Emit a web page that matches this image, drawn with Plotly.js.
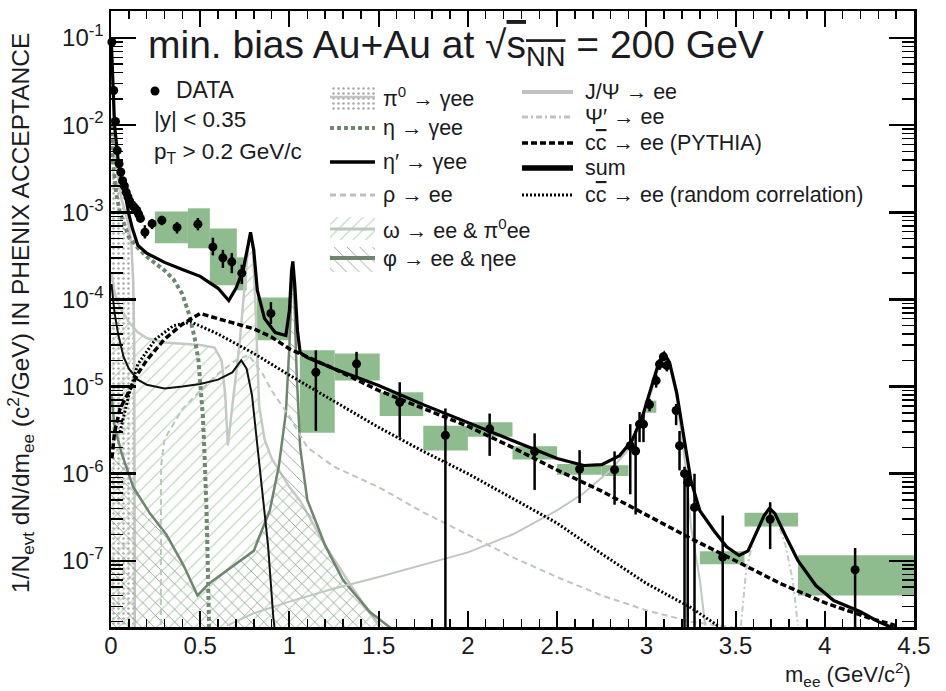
<!DOCTYPE html>
<html><head><meta charset="utf-8">
<script src="https://cdn.plot.ly/plotly-3.0.1.min.js"></script>
<style>body{margin:0;background:#fff}#chart{width:946px;height:691px}</style>
</head><body><div id="chart"></div>
<script>
// ---------------- DATA ----------------
const massData = [0.005,0.015,0.025,0.035,0.045,0.055,0.065,0.075,0.085,0.095,0.105,0.115,0.125,0.135,0.145,0.155,0.165,0.19,0.23,0.285,0.37,0.487,0.571,0.627,0.677,0.733,0.896,1.148,1.376,1.618,1.874,2.122,2.374,2.626,2.822,2.91,2.94,2.962,2.984,3.018,3.055,3.074,3.096,3.115,3.167,3.186,3.214,3.232,3.27,3.428,3.694,4.17];
const yieldData = [0.09,0.025,0.011,0.0051,0.0036,0.0029,0.0023,0.0020,0.0017,0.0015,0.00134,0.00123,0.00117,0.00111,0.00105,0.00095,0.00085,5.9e-4,7.4e-4,8.1e-4,6.7e-4,7.3e-4,4.0e-4,3.0e-4,2.7e-4,2.0e-4,6.9e-5,1.46e-5,1.82e-5,6.6e-6,2.75e-6,3.27e-6,1.79e-6,1.13e-6,1.11e-6,2.09e-6,1.82e-6,3.7e-6,3.7e-6,6.2e-6,1.17e-5,1.8e-5,2.2e-5,1.74e-5,5.3e-6,2.09e-6,1.0e-6,7.9e-7,4.1e-7,1.1e-7,3.0e-7,7.9e-8];
const errUp = [0.004,0.0012,0.0005,0.00025,0.00018,0.00014,0.00011,0.0001,0.00008,0.00007,0.00007,0.00006,0.00006,0.00006,0.00006,0.00006,0.00006,1.2e-4,1.0e-4,1.0e-4,1.0e-4,1.3e-4,1.1e-4,0.7e-4,0.7e-4,0.5e-4,2.4e-5,1.14e-5,0.68e-5,4.6e-6,2.85e-6,1.63e-6,1.11e-6,7.3e-7,6.9e-7,1.61e-6,1.28e-6,1.4e-6,1.4e-6,1.0e-6,2.0e-6,2.5e-6,2.5e-6,2.5e-6,1.0e-6,1.0e-6,2.0e-7,2.0e-7,5.9e-7,2.2e-7,1.7e-7,6.1e-8];
const errDown = [0.004,0.0012,0.0005,0.00025,0.00018,0.00014,0.00011,0.0001,0.00008,0.00007,0.00007,0.00006,0.00006,0.00006,0.00006,0.00006,0.00006,0.9e-4,1.0e-4,1.0e-4,1.0e-4,1.1e-4,0.8e-4,0.7e-4,0.7e-4,0.5e-4,1.7e-5,1.15e-5,0.59e-5,4.0e-6,2.749e-6,1.67e-6,1.14e-6,6.7e-7,6.7e-7,1.51e-6,1.48e-6,1.4e-6,1.4e-6,1.0e-6,2.0e-6,2.5e-6,2.5e-6,2.5e-6,1.7e-6,1.0e-6,0.999e-6,7.89e-7,4.09e-7,1.099e-7,1.64e-7,7.89e-8];

// systematic boxes
const sysMlo = [0.246,0.431,0.554,0.705,0.817,1.058,1.254,1.506,1.75,2.0,2.25,2.5,2.75,2.99,3.3,3.55,3.85];
const sysMhi = [0.431,0.554,0.705,0.76,1.0,1.254,1.506,1.75,2.0,2.25,2.5,2.75,2.9,3.056,3.55,3.85,4.5];
const sysLo  = [4.4e-4,3.86e-4,1.45e-4,1.27e-4,3.4e-5,2.95e-6,1.17e-5,4.6e-6,1.84e-6,2.66e-6,1.45e-6,9.7e-7,9.4e-7,5.0e-6,9.1e-8,2.48e-7,4.0e-8];
const sysHi  = [1.02e-3,1.11e-3,6.5e-4,3.04e-4,1.05e-4,2.6e-5,2.4e-5,8.6e-6,3.55e-6,3.9e-6,2.06e-6,1.29e-6,1.25e-6,6.9e-6,1.29e-7,3.55e-7,1.16e-7];

// cocktail components
const sumM = [0.002,0.01,0.02,0.04,0.06,0.08,0.1,0.12,0.15,0.2,0.3,0.4,0.5,0.6,0.66,0.7,0.74,0.765,0.782,0.8,0.82,0.86,0.92,0.98,1.0,1.012,1.019,1.03,1.045,1.06,1.1,1.25,1.5,1.75,2.0,2.25,2.5,2.65,2.75,2.85,2.92,2.98,3.03,3.07,3.1,3.13,3.17,3.21,3.25,3.3,3.38,3.45,3.52,3.57,3.62,3.66,3.69,3.72,3.78,3.85,3.95,4.05,4.2,4.3,4.38];
const sumY = [0.09,0.025,0.01,0.004,0.0023,0.0016,9.5e-4,6.5e-4,4.2e-4,3.4e-4,2.66e-4,2.2e-4,1.84e-4,1.34e-4,9.7e-5,1.34e-4,2.15e-4,3.86e-4,5.9e-4,3.66e-4,1.27e-4,6.05e-5,4.17e-5,3.85e-5,7.5e-5,2.15e-4,2.73e-4,1.45e-4,4.4e-5,2.45e-5,2.15e-5,1.6e-5,1.03e-5,6.2e-6,3.86e-6,2.4e-6,1.49e-6,1.24e-6,1.27e-6,1.61e-6,2.4e-6,4.65e-6,1.03e-5,1.89e-5,2.4e-5,1.89e-5,8.5e-6,2.73e-6,8.3e-7,3.76e-7,2.2e-7,1.45e-7,1.15e-7,1.3e-7,2.2e-7,3.3e-7,4.0e-7,3.5e-7,1.94e-7,1.0e-7,5.2e-8,3.5e-8,2.6e-8,2.0e-8,1.7e-8];

const ccM = [0.005,0.02,0.05,0.1,0.15,0.2,0.3,0.4,0.5,0.6,0.7,0.8,0.9,1.0,1.25,1.5,1.75,2.0,2.25,2.5,2.75,3.0,3.25,3.5,3.75,4.0,4.25,4.4];
const ccY = [1.5e-6,3e-6,5.5e-6,9e-6,1.4e-5,2.0e-5,3.5e-5,5.2e-5,6.9e-5,6.0e-5,5.3e-5,4.6e-5,3.7e-5,2.7e-5,1.6e-5,9.0e-6,5.6e-6,3.5e-6,2.0e-6,1.1e-6,6.3e-7,3.4e-7,1.8e-7,1.0e-7,5.5e-8,3.3e-8,2.2e-8,1.8e-8];

const rndM = [0.05,0.1,0.15,0.25,0.35,0.45,0.6,0.8,1.0,1.25,1.5,1.75,2.0,2.25,2.5,2.75,3.0,3.25,3.4];
const rndY = [3e-6,8e-6,1.8e-5,3.5e-5,5.0e-5,5.5e-5,4.0e-5,2.4e-5,1.35e-5,6.8e-6,3.4e-6,1.8e-6,1.0e-6,5.2e-7,2.7e-7,1.2e-7,5.5e-8,2.9e-8,1.8e-8];

const etaM = [0.002,0.01,0.03,0.05,0.1,0.15,0.2,0.25,0.3,0.35,0.4,0.44,0.47,0.49,0.505,0.515,0.525,0.535,0.545,0.55];
const etaY = [0.012,4e-3,1.6e-3,1.0e-3,5.2e-4,3.9e-4,3.1e-4,2.6e-4,2.15e-4,1.7e-4,1.15e-4,6.5e-5,3.5e-5,2.0e-5,9e-6,4.5e-6,1.5e-6,4e-7,5e-8,1.5e-8];

const etapM = [0.003,0.02,0.04,0.07,0.1,0.15,0.2,0.3,0.4,0.5,0.6,0.68,0.73,0.76,0.79,0.82,0.85,0.88,0.91,0.92];
const etapY = [1.5e-4,7e-5,4e-5,2.2e-5,1.6e-5,1.2e-5,1.05e-5,9.5e-6,1.0e-5,1.07e-5,1.2e-5,1.45e-5,2.0e-5,1.6e-5,8e-6,2.0e-6,5e-7,1.5e-7,2.2e-8,1.5e-8];

const pi0M = [0.001,0.01,0.02,0.04,0.06,0.08,0.1,0.115,0.125,0.13,0.133,0.135];
const pi0Y = [0.1,0.02,7e-3,2.5e-3,1.4e-3,1.0e-3,7e-4,4e-4,1.5e-4,3e-5,2e-6,1e-9];

const omegaM = [0.002,0.02,0.05,0.1,0.15,0.2,0.3,0.4,0.5,0.58,0.62,0.64,0.655,0.68,0.72,0.75,0.77,0.782,0.795,0.81,0.83,0.86,0.9,1.0,1.06,1.2,1.35,1.5];
const omegaY = [2e-4,1.2e-4,8e-5,5.5e-5,4.2e-5,3.6e-5,3.2e-5,3.1e-5,3.0e-5,2.8e-5,2.0e-5,8e-6,2.1e-6,6e-6,3e-5,1.5e-4,4.5e-4,5.5e-4,4.0e-4,8e-5,6e-6,2.5e-6,1.5e-6,7e-7,4.9e-7,1.5e-7,5e-8,1.8e-8];

const phiM = [0.002,0.02,0.06,0.125,0.218,0.31,0.405,0.485,0.55,0.68,0.8,0.89,0.94,0.98,1.0,1.012,1.019,1.027,1.04,1.06,1.1,1.2,1.3,1.45,1.6];
const phiY = [8e-6,3.5e-6,1.7e-6,7e-7,3.5e-7,2e-7,9e-8,4e-8,5.5e-8,8.5e-8,1.3e-7,3.8e-7,1.2e-6,5e-6,3e-5,1.5e-4,2.5e-4,1.2e-4,1.5e-5,2e-6,5e-7,1.5e-7,6e-8,2.6e-8,1.5e-8];

const rhoM = [0.279,0.28,0.3,0.4,0.5,0.6,0.7,0.77,0.85,0.9,1.0,1.1,1.25,1.5,1.75,2.0,2.25,2.5,2.75,3.0,3.25,3.5];
const rhoY = [1e-9,1.2e-6,2.5e-6,5.5e-6,9e-6,1.4e-5,2.0e-5,2.3e-5,1.4e-5,9e-6,4.5e-6,2.0e-6,1.2e-6,7e-7,3.6e-7,2.0e-7,1.1e-7,6.5e-8,4e-8,2.7e-8,2.0e-8,1.7e-8];

const jpsiM = [0.65,0.8,1.0,1.25,1.5,1.75,2.0,2.25,2.5,2.65,2.8,2.9,2.98,3.03,3.07,3.1,3.13,3.17,3.2,3.22,3.25,3.3,3.33];
const jpsiY = [1.8e-8,2.5e-8,3.4e-8,4.8e-8,6.5e-8,9e-8,1.25e-7,2e-7,3.8e-7,6e-7,1.1e-6,1.9e-6,4.2e-6,9e-6,1.7e-5,2.2e-5,1.75e-5,7.5e-6,2.5e-6,1.2e-6,2.5e-7,6e-8,1.8e-8];

const psipM = [3.53,3.56,3.6,3.65,3.69,3.73,3.78,3.82,3.85];
const psipY = [1.8e-8,8e-8,1.7e-7,3.2e-7,3.6e-7,3e-7,1.5e-7,6e-8,1.8e-8];

const xTickVals = [0,0.5,1,1.5,2,2.5,3,3.5,4,4.5];
const xTickText = ['0','0.5','1','1.5','2','2.5','3','3.5','4','4.5'];
const yTickVals = [1e-7,1e-6,1e-5,1e-4,1e-3,1e-2,1e-1];
const yTickText = ['10<sup>-7</sup>','10<sup>-6</sup>','10<sup>-5</sup>','10<sup>-4</sup>','10<sup>-3</sup>','10<sup>-2</sup>','10<sup>-1</sup>'];

// ---------------- STYLE ----------------
const FONT = 'Liberation Sans, Arial, Helvetica, sans-serif';
const TXT = '#1b1b22';
const GREEN = 'rgb(143,188,143)';
const styles = {
  pi0:   {color:'rgb(195,195,195)', width:2.5},
  eta:   {color:'rgb(112,135,112)', width:4, dash:'4px,3px'},
  etap:  {color:'#111', width:2},
  rho:   {color:'rgb(185,200,185)', width:2, dash:'6px,4px'},
  omega: {color:'rgb(195,202,195)', width:2.5},
  phi:   {color:'rgb(112,132,112)', width:2.5},
  jpsi:  {color:'rgb(190,200,190)', width:2},
  psip:  {color:'rgb(190,205,190)', width:2, dash:'6px,3px,2px,3px'},
  cc:    {color:'#000', width:3.5, dash:'6px,3px'},
  sum:   {color:'#000', width:3.2},
  rnd:   {color:'#000', width:3, dash:'2px,2px'}
};
const patOmega = {shape:'/', fgcolor:'rgb(175,212,175)', bgcolor:'rgba(255,255,255,0)', size:9, solidity:0.12};
const patPhi   = {shape:'\\', fgcolor:'rgb(150,158,150)', bgcolor:'rgba(255,255,255,0)', size:9, solidity:0.1};
const patPi0   = {shape:'.', fgcolor:'rgb(170,170,170)', bgcolor:'rgba(255,255,255,0)', size:5, solidity:0.2};

function curve(x, y, line, extra){
  return Object.assign({type:'scatter', mode:'lines', x:x, y:y, line:line, hoverinfo:'skip', showlegend:false}, extra||{});
}
const traces = [];
for (let i=0;i<sysMlo.length;i++){
  traces.push({type:'scatter', mode:'lines', x:[sysMlo[i],sysMhi[i],sysMhi[i],sysMlo[i],sysMlo[i]],
    y:[sysLo[i],sysLo[i],sysHi[i],sysHi[i],sysLo[i]], fill:'toself', fillcolor:GREEN,
    line:{width:0,color:GREEN}, hoverinfo:'skip', showlegend:false});
}
traces.push(curve(pi0M, pi0Y, styles.pi0, {fill:'tozeroy', fillcolor:'rgba(0,0,0,0)', fillpattern:patPi0}));
traces.push(curve(omegaM, omegaY, styles.omega, {fill:'tozeroy', fillcolor:'rgba(0,0,0,0)', fillpattern:patOmega}));
traces.push(curve(phiM, phiY, styles.phi, {fill:'tozeroy', fillcolor:'rgba(0,0,0,0)', fillpattern:patPhi}));
traces.push(curve(rhoM, rhoY, styles.rho));
traces.push(curve(jpsiM, jpsiY, styles.jpsi));
traces.push(curve(psipM, psipY, styles.psip));
traces.push(curve(etaM, etaY, styles.eta));
traces.push(curve(etapM, etapY, styles.etap));
traces.push(curve(rndM, rndY, styles.rnd));
traces.push(curve(ccM, ccY, styles.cc));
traces.push(curve(sumM, sumY, styles.sum));
traces.push({type:'scatter', mode:'markers', x:massData, y:yieldData, cliponaxis:false,
  marker:{color:'#000', size:9},
  error_y:{type:'data', symmetric:false, array:errUp, arrayminus:errDown, color:'#000', thickness:2.5, width:0},
  hoverinfo:'skip', showlegend:false});

// ---------------- legend (drawn on an overlay 0..1 axis pair) ----------------
function px2x(px){return (px-111)/803;}
function px2y(py){return (627-py)/616;}
function sampleLine(x0,x1,yy,line){
  return {type:'scatter', mode:'lines', xaxis:'x2', yaxis:'y2', x:[px2x(x0),px2x(x1)], y:[px2y(yy),px2y(yy)], line:line, hoverinfo:'skip', showlegend:false};
}
function sampleBox(x0,x1,y0,y1,pat){
  return {type:'scatter', mode:'lines', xaxis:'x2', yaxis:'y2',
    x:[px2x(x0),px2x(x1),px2x(x1),px2x(x0),px2x(x0)], y:[px2y(y0),px2y(y0),px2y(y1),px2y(y1),px2y(y0)],
    fill:'toself', fillcolor:'rgba(0,0,0,0)', fillpattern:pat, line:{width:0}, hoverinfo:'skip', showlegend:false};
}
traces.push(sampleBox(330,375,85,110,patPi0));
traces.push(sampleLine(330,375,97,styles.pi0));
traces.push(sampleLine(330,375,128,styles.eta));
traces.push(sampleLine(330,375,162,{color:'#000', width:3.5}));
traces.push(sampleLine(330,375,195,{color:'rgb(185,195,185)', width:3, dash:'6px,4px'}));
traces.push(sampleBox(330,375,217,240,patOmega));
traces.push(sampleLine(330,375,229,{color:'rgb(190,198,190)', width:3}));
traces.push(sampleBox(330,375,247,272,patPhi));
traces.push(sampleLine(330,375,258,{color:'rgb(112,132,112)', width:4}));
traces.push(sampleLine(522,573,92,{color:'rgb(190,195,190)', width:4}));
traces.push(sampleLine(522,573,117,{color:'rgb(190,195,190)', width:3, dash:'6px,3px,2px,3px'}));
traces.push(sampleLine(522,573,143,{color:'#000', width:3.5, dash:'6px,3px'}));
traces.push(sampleLine(522,573,168,{color:'#000', width:5.5}));
traces.push(sampleLine(522,573,195,{color:'#000', width:3, dash:'2px,2px'}));
traces.push({type:'scatter', mode:'markers', xaxis:'x2', yaxis:'y2', x:[px2x(155)], y:[px2y(91)], marker:{color:'#000', size:9}, hoverinfo:'skip', showlegend:false});

function ann(px, py, text, size, extra){
  return Object.assign({xref:'paper', yref:'paper', x:px2x(px), y:px2y(py), text:text, showarrow:false,
    xanchor:'left', yanchor:'middle', font:{family:FONT, size:size, color:TXT}}, extra||{});
}
const OL = (s)=>'<span style="text-decoration:overline">'+s+'</span>';
const annotations = [
  ann(146, 48, 'min. bias Au+Au at √'+OL('s<sub>NN</sub>')+' = 200 GeV', 39),
  ann(174, 90, 'DATA', 23),
  ann(152, 119, '|y| &lt; 0.35', 22.5),
  ann(152, 153, 'p<sub>T</sub> &gt; 0.2 GeV/c', 22.5),
  ann(381, 97, 'π<sup>0</sup> → γee', 21.5),
  ann(381, 128, 'η → γee', 21.5),
  ann(381, 162, 'η′ → γee', 21.5),
  ann(381, 195, 'ρ → ee', 21.5),
  ann(381, 229, 'ω → ee &amp; π<sup>0</sup>ee', 21.5),
  ann(381, 259, 'φ → ee &amp; ηee', 21.5),
  ann(583, 92, 'J/Ψ → ee', 21.5),
  ann(583, 117, 'Ψ′ → ee', 21.5),
  ann(583, 143, 'c'+OL('c')+' → ee (PYTHIA)', 21.5),
  ann(583, 168, 'sum', 21.5),
  ann(583, 195, 'c'+OL('c')+' → ee (random correlation)', 21.5),
  ann(20, 313, '1/N<sub>evt</sub> dN/dm<sub>ee</sub> (c<sup>2</sup>/GeV) IN PHENIX ACCEPTANCE', 24.5, {textangle:-90, xanchor:'center', yanchor:'middle'}),
  ann(913, 674, 'm<sub>ee</sub> (GeV/c<sup>2</sup>)', 22, {xanchor:'right'})
];

const yMinor = [];
for (let e=-8;e<=-1;e++){ for (let d=2; d<=9; d++){ yMinor.push(d*Math.pow(10,e)); } }

const axisCommon = {showline:true, linecolor:'#000', linewidth:2.5, mirror:'allticks', ticks:'inside',
  tickcolor:'#000', showgrid:false, zeroline:false, tickfont:{family:FONT, size:24, color:TXT}};
const layout = {
  width:946, height:691, autosize:false,
  margin:{l:111, r:32, t:11, b:64, pad:0},
  paper_bgcolor:'#fff', plot_bgcolor:'#fff', showlegend:false,
  xaxis:Object.assign({}, axisCommon, {range:[0,4.5], tickmode:'array', tickvals:xTickVals, ticktext:xTickText,
    ticklen:16, tickwidth:2, ticklabelstandoff:-4,
    minor:{dtick:0.1, tick0:0, ticks:'inside', ticklen:8, tickwidth:1.5, tickcolor:'#000', showgrid:false}}),
  yaxis:Object.assign({}, axisCommon, {type:'log', range:[-7.76,-0.69], tickmode:'array', tickvals:yTickVals, ticktext:yTickText,
    ticklen:25, tickwidth:2.5,
    minor:{tickmode:'array', tickvals:yMinor, ticks:'inside', ticklen:12, tickwidth:1.5, tickcolor:'#000', showgrid:false}}),
  xaxis2:{overlaying:'x', anchor:'y2', range:[0,1], visible:false, fixedrange:true},
  yaxis2:{overlaying:'y', anchor:'x2', range:[0,1], visible:false, fixedrange:true},
  annotations:annotations
};
Plotly.newPlot('chart', traces, layout, {staticPlot:true, displayModeBar:false});
</script>
</body></html>
